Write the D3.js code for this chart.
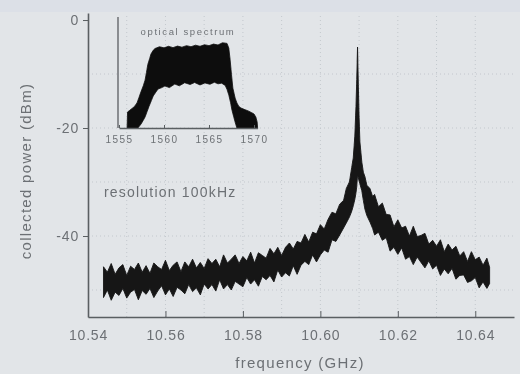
<!DOCTYPE html>
<html>
<head>
<meta charset="utf-8">
<script src="https://cdn.jsdelivr.net/npm/d3@7"></script>
<style>
  html, body { margin: 0; padding: 0; background: #e2e5e8; }
  svg { display: block; }
  text { font-family: "Liberation Sans", Arial, sans-serif; fill: #6c7074; }
</style>
</head>
<body>
<svg id="chart" width="520" height="374"></svg>
<script>
// ---------------- data ----------------
const xTicks = [10.54, 10.56, 10.58, 10.60, 10.62, 10.64];
const xTickLabels = ["10.54", "10.56", "10.58", "10.60", "10.62", "10.64"];
const yTicks = [0, -20, -40];
const yTickLabels = ["0", "-20", "-40"];
const gridFreqs = [10.55, 10.56, 10.57, 10.58, 10.59, 10.60, 10.61, 10.62, 10.63, 10.64];
const gridDb = [-10, -20, -30, -40, -50];

// frequency samples of the measured RF spectrum (GHz)
const freqs = [
  10.544, 10.545, 10.546, 10.547, 10.548, 10.549, 10.550, 10.551, 10.552, 10.553,
  10.554, 10.555, 10.556, 10.557, 10.558, 10.559, 10.560, 10.561, 10.562, 10.563,
  10.564, 10.565, 10.566, 10.567, 10.568, 10.569, 10.570, 10.571, 10.572, 10.573,
  10.574, 10.575, 10.576, 10.577, 10.578, 10.579, 10.580, 10.581, 10.582, 10.583,
  10.584, 10.585, 10.586, 10.587, 10.588, 10.589, 10.590, 10.591, 10.592, 10.593,
  10.594, 10.595, 10.596, 10.597, 10.598, 10.599, 10.600, 10.601, 10.602, 10.603,
  10.604,
  10.605, 10.606, 10.6067, 10.6075, 10.6081, 10.6085, 10.6089, 10.6092, 10.6094, 10.6096,
  10.6098, 10.6100, 10.6102, 10.6107, 10.6111, 10.6115, 10.612, 10.6128, 10.6135,
  10.614, 10.615, 10.616, 10.617, 10.618, 10.619, 10.620, 10.621, 10.622, 10.623,
  10.624, 10.625, 10.626, 10.627, 10.628, 10.629, 10.630, 10.631, 10.632, 10.633,
  10.634, 10.635, 10.636, 10.637, 10.638, 10.639, 10.640, 10.641, 10.642, 10.643,
  10.6437
];
// upper edge of the noisy trace (dBm)
const upperDb = [
  -45.7, -46.7, -45.1, -47.1, -45.9, -45.3, -47.3, -45.6, -46.2, -45.0,
  -46.7, -45.5, -46.9, -45.0, -45.7, -46.2, -44.5, -46.4, -45.4, -44.8,
  -46.6, -44.8, -45.7, -44.3, -45.9, -44.9, -46.0, -44.2, -45.1, -44.3,
  -45.7, -43.5, -45.0, -44.3, -43.5, -45.1, -43.8, -44.6, -43.0, -45.0,
  -43.1, -43.6, -44.1, -42.3, -43.3, -42.1, -43.6, -42.1, -41.3, -42.4,
  -41.0, -41.3, -39.7, -41.1, -39.3, -39.6, -37.9, -38.7, -36.9, -35.6,
  -35.9,
  -34.1, -33.4, -31.2, -30.0, -27.3, -25.5, -21.5, -16.0, -11.0, -5.0,
  -12.0, -18.0, -22.5, -26.3, -28.2, -29.0, -30.6, -31.2, -32.7,
  -32.3, -34.6, -33.9, -36.0, -36.1, -38.3, -37.0, -38.5, -38.2, -40.0,
  -38.2, -40.1, -39.9, -39.5, -41.5, -40.8, -41.9, -40.7, -42.9, -41.5,
  -42.6, -41.9, -43.7, -42.9, -44.7, -42.9, -44.4, -43.9, -45.4, -44.1,
  -45.8
];
// lower edge of the noisy trace (dBm)
const lowerDb = [
  -51.4, -50.0, -51.9, -50.4, -51.0, -49.7, -51.5, -50.4, -49.9, -51.8,
  -50.1, -50.8, -49.7, -51.4, -50.2, -49.2, -50.9, -49.8, -51.2, -49.5,
  -50.0, -50.7, -49.0, -50.3, -49.6, -50.9, -48.9, -49.8, -49.0, -50.2,
  -48.1, -49.8, -49.0, -50.0, -48.4, -48.9, -49.4, -47.7, -48.9, -48.1,
  -49.3, -47.5, -48.1, -47.3, -48.5, -46.3, -47.6, -46.8, -47.4, -45.5,
  -47.1, -45.4, -44.7, -45.3, -43.5, -44.8, -43.5, -42.6, -43.0, -40.7,
  -41.0,
  -39.8, -38.5, -37.6, -36.5, -35.4, -34.4, -33.2, -32.0, -30.8, -28.7,
  -29.2, -29.8, -30.3, -31.6, -33.4, -35.0, -36.2, -37.4, -38.6,
  -39.8, -39.3, -40.8, -40.3, -42.8, -42.1, -43.4, -42.2, -44.3, -43.8,
  -45.3, -43.9, -44.9, -45.9, -44.6, -46.1, -45.4, -47.3, -46.1, -47.0,
  -46.0, -48.0, -47.3, -47.2, -48.6, -48.3, -47.7, -49.6, -48.5, -49.7,
  -48.8
];

// inset: optical spectrum
const insetTicks = [1555, 1560, 1565, 1570];
const insetTickLabels = ["1555", "1560", "1565", "1570"];
const optUpperWl = [1555.9, 1555.95, 1556.2, 1556.45, 1556.7, 1557.0, 1557.2, 1557.45, 1557.7, 1557.9,
  1558.05, 1558.2, 1558.4, 1558.55, 1558.8, 1559.0, 1559.5, 1560.0, 1560.5, 1561.0,
  1561.5, 1562.0, 1562.5, 1563.0, 1563.5, 1564.0, 1564.5, 1565.0, 1565.5, 1566.0,
  1566.5, 1567.0, 1567.2, 1567.35, 1567.5, 1567.65, 1567.9, 1568.1, 1568.3, 1568.55,
  1568.9, 1569.35, 1569.7, 1570.0, 1570.2, 1570.35, 1570.4];
const optUpperDb = [-60, -52.8, -52.0, -51.2, -50.4, -48.7, -46.5, -43.6, -41.0, -38.4,
  -35.0, -31.4, -28.8, -26.7, -25.0, -24.2, -23.4, -23.9, -23.2, -23.8,
  -23.1, -23.6, -22.9, -23.4, -22.7, -23.2, -22.5, -22.9, -22.2, -22.6,
  -21.6, -21.9, -24.0, -29.4, -36.0, -42.0, -46.5, -48.7, -50.2, -51.0,
  -51.6, -52.3, -53.0, -53.7, -55.0, -57.3, -60];
const optLowerWl = [1555.9, 1557.1, 1557.3, 1557.45, 1557.7, 1557.9, 1558.1, 1558.35, 1558.6, 1558.8,
  1559.1, 1559.35, 1559.7, 1560.1, 1560.6, 1561.2, 1561.7, 1562.3, 1562.9, 1563.4,
  1564.0, 1564.55, 1565.1, 1565.6, 1566.0, 1566.4, 1566.8, 1567.0, 1567.2, 1567.4,
  1567.55, 1567.75, 1567.9, 1568.1, 1570.4];
const optLowerDb = [-60, -60, -59.0, -58.2, -56.5, -55.0, -52.8, -50.1, -47.6, -45.6,
  -43.8, -42.4, -41.9, -41.1, -41.8, -40.2, -41.0, -39.6, -40.4, -39.5,
  -40.6, -39.7, -40.3, -39.4, -40.1, -39.8, -40.8, -42.6, -45.1, -48.6,
  -51.9, -55.0, -57.3, -60, -60];

// ---------------- drawing ----------------
const svg = d3.select("#chart");
svg.append("rect").attr("x", 0).attr("y", 0).attr("width", 520).attr("height", 374).attr("fill", "#e2e5e8");
svg.append("rect").attr("x", 0).attr("y", 0).attr("width", 520).attr("height", 12).attr("fill", "#dce0e7");

const defs = svg.append("defs");
defs.append("filter").attr("id", "soft").append("feGaussianBlur").attr("stdDeviation", 0.55);

const g = svg.append("g").attr("filter", "url(#soft)");

const x = d3.scaleLinear().domain([10.54, 10.65]).range([88, 514]);
const y = d3.scaleLinear().domain([-55, 1.3]).range([317, 13]);

// faint dotted grid
g.append("g").selectAll("line").data(gridFreqs).join("line")
  .attr("x1", d => x(d)).attr("x2", d => x(d))
  .attr("y1", y(-55)).attr("y2", y(1.3))
  .attr("stroke", "#c3c8cd").attr("stroke-width", 1).attr("stroke-dasharray", "1,3");
g.append("g").selectAll("line").data(gridDb).join("line")
  .attr("x1", x(10.54)).attr("x2", x(10.65))
  .attr("y1", d => y(d)).attr("y2", d => y(d))
  .attr("stroke", "#c3c8cd").attr("stroke-width", 1).attr("stroke-dasharray", "1,3");

// inset
const xi = d3.scaleLinear().domain([1555, 1570.4]).range([119, 257.6]);
const yi = d3.scaleLinear().domain([-60, -10]).range([128, 17]);

const optPoly = optUpperWl.map((w, i) => [xi(w), yi(optUpperDb[i])])
  .concat(optLowerWl.map((w, i) => [xi(w), yi(optLowerDb[i])]).reverse());
g.append("path")
  .attr("d", d3.line()(optPoly) + "Z")
  .attr("fill", "#111").attr("stroke", "#111").attr("stroke-width", 0.8);

g.append("line").attr("x1", xi(1555) - 1).attr("x2", xi(1555) - 1)
  .attr("y1", yi(-60)).attr("y2", yi(-10))
  .attr("stroke", "#5a5e62").attr("stroke-width", 1.3);
const insetAxis = d3.axisBottom(xi).tickValues(insetTicks)
  .tickFormat((d, i) => insetTickLabels[i]).tickSizeInner(-3).tickSizeOuter(0).tickPadding(8);
const ia = g.append("g").attr("transform", `translate(0,${yi(-60)})`).call(insetAxis);
ia.select(".domain").attr("stroke", "#5a5e62").attr("stroke-width", 1.3);
ia.selectAll(".tick line").attr("stroke", "#5a5e62");
ia.selectAll(".tick text").attr("font-size", 10).attr("letter-spacing", 1.4).attr("fill", "#6c7074")
  .attr("font-family", "Liberation Sans, Arial, sans-serif");

g.append("text").attr("x", 188).attr("y", 35).attr("text-anchor", "middle")
  .attr("font-size", 9.5).attr("letter-spacing", 1.6).text("optical spectrum");

// main noisy trace
const area = d3.area()
  .x((d, i) => x(freqs[i]))
  .y0((d, i) => y(lowerDb[i]))
  .y1((d, i) => y(upperDb[i]));
g.append("path").datum(freqs)
  .attr("d", area)
  .attr("fill", "#141414").attr("stroke", "#141414").attr("stroke-width", 0.9);

// axes
const xAxis = d3.axisBottom(x).tickValues(xTicks)
  .tickFormat((d, i) => xTickLabels[i]).tickSizeInner(-6).tickSizeOuter(0).tickPadding(13);
const xa = g.append("g").attr("transform", `translate(0,${y(-55)})`).call(xAxis);
xa.select(".domain").attr("stroke", "#5a5e62").attr("stroke-width", 1.6);
xa.selectAll(".tick line").attr("stroke", "#5a5e62");
xa.selectAll(".tick text").attr("font-size", 14).attr("letter-spacing", 0.8).attr("fill", "#6c7074")
  .attr("font-family", "Liberation Sans, Arial, sans-serif");

const yAxis = d3.axisLeft(y).tickValues(yTicks)
  .tickFormat((d, i) => yTickLabels[i]).tickSizeInner(5).tickSizeOuter(0).tickPadding(4);
const ya = g.append("g").attr("transform", `translate(${x(10.54)},0)`).call(yAxis);
ya.select(".domain").attr("stroke", "#5a5e62").attr("stroke-width", 1.6);
ya.selectAll(".tick line").attr("stroke", "#5a5e62");
ya.selectAll(".tick text").attr("font-size", 14).attr("letter-spacing", 0.8).attr("fill", "#6c7074")
  .attr("font-family", "Liberation Sans, Arial, sans-serif");

// labels
g.append("text").attr("x", 300).attr("y", 368).attr("text-anchor", "middle")
  .attr("font-size", 15).attr("letter-spacing", 1.3).text("frequency (GHz)");
g.append("text").attr("transform", "translate(31,171) rotate(-90)").attr("text-anchor", "middle")
  .attr("font-size", 15).attr("letter-spacing", 1.3).text("collected power (dBm)");
g.append("text").attr("x", 104).attr("y", 197)
  .attr("font-size", 14).attr("letter-spacing", 1.2).text("resolution 100kHz");
</script>
</body>
</html>
